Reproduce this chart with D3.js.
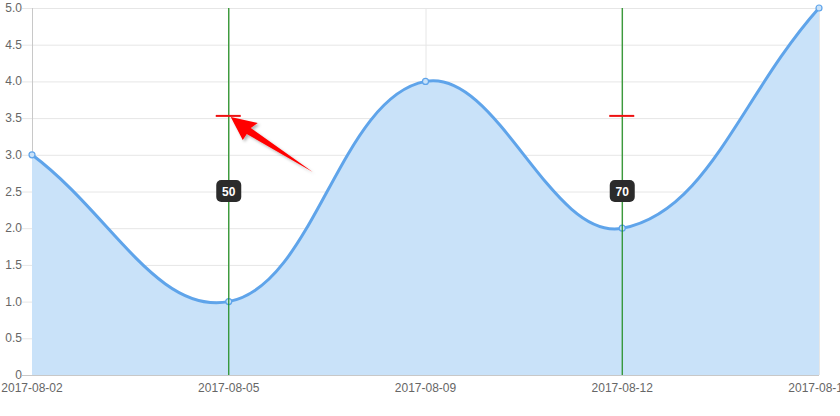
<!DOCTYPE html>
<html><head><meta charset="utf-8">
<script src="https://cdn.jsdelivr.net/npm/d3@7"></script>
<style>html,body{margin:0;padding:0;background:#fff;overflow:hidden}svg{display:block}</style>
</head><body>
<svg id="c" width="840" height="416"></svg>
<script>
const categories = ["2017-08-02","2017-08-05","2017-08-09","2017-08-12","2017-08-16"];
const values = [3, 1, 4, 2, 5];
const yTicks = [0,0.5,1,1.5,2,2.5,3,3.5,4,4.5,5];
const vLines = ["2017-08-05","2017-08-12"];
const vLabels = ["50","70"];
const markLevel = 3.53;

const svg = d3.select("#c");
const m = {l:32, r:21, t:8, b:41};
const W = 840, H = 416;
const x = d3.scalePoint().domain(categories).range([m.l, W-m.r]);
const y = d3.scaleLinear().domain([0,5]).range([H-m.b, m.t]);
const font = "Liberation Sans, Arial, Helvetica, sans-serif";

// grid
const g = svg.append("g");
g.selectAll("line.hy").data(yTicks).join("line")
  .attr("x1", m.l-10).attr("x2", W-m.r).attr("y1", d=>y(d)+0.5).attr("y2", d=>y(d)+0.5)
  .attr("stroke", d=> d===0 ? "#c8c8c8" : "#e6e6e6").attr("stroke-width",1);
g.selectAll("line.vx").data(categories).join("line")
  .attr("x1", d=>x(d)+0.5).attr("x2", d=>x(d)+0.5).attr("y1", m.t).attr("y2", H-m.b)
  .attr("stroke", (d,i)=> i===0 ? "#c8c8c8" : "#e6e6e6").attr("stroke-width",1);

// y labels
g.selectAll("text.yl").data(yTicks).join("text")
  .attr("x", m.l-10).attr("y", d=>y(d)+4).attr("text-anchor","end")
  .attr("font-family", font).attr("font-size", 12).attr("fill","#666")
  .text(d=> d===0 ? "0" : d.toFixed(1));
// x labels
g.selectAll("text.xl").data(categories).join("text")
  .attr("x", d=>x(d)).attr("y", H-m.b+17).attr("text-anchor","middle")
  .attr("font-family", font).attr("font-size", 12).attr("fill","#666")
  .text(d=>d);

// Chart.js-style spline (tension 0.4)
const pts = categories.map((c,i)=>({x:x(c), y:y(values[i])}));
const t = 0.4;
const cps = pts.map((p,i)=>{
  const prev = pts[i-1]||p, next = pts[i+1]||p;
  const d01 = Math.hypot(p.x-prev.x, p.y-prev.y);
  const d12 = Math.hypot(next.x-p.x, next.y-p.y);
  let s01 = d01/(d01+d12), s12 = d12/(d01+d12);
  if (isNaN(s01)) s01 = 0; if (isNaN(s12)) s12 = 0;
  const fa = t*s01, fb = t*s12;
  return {
    px: p.x - fa*(next.x-prev.x), py: p.y - fa*(next.y-prev.y),
    nx: p.x + fb*(next.x-prev.x), ny: p.y + fb*(next.y-prev.y)
  };
});
function linePath(){
  const p = d3.path();
  p.moveTo(pts[0].x, pts[0].y);
  for (let i=1;i<pts.length;i++){
    p.bezierCurveTo(cps[i-1].nx, cps[i-1].ny, cps[i].px, cps[i].py, pts[i].x, pts[i].y);
  }
  return p.toString();
}
const lp = linePath();
svg.append("path").attr("d", lp + `L${pts[pts.length-1].x},${y(0)}L${pts[0].x},${y(0)}Z`)
  .attr("fill","#c9e2f9").attr("stroke","none");
svg.append("path").attr("d", lp).attr("fill","none").attr("stroke","#5fa4ea").attr("stroke-width",3);
svg.selectAll("circle.pt").data(pts).join("circle")
  .attr("cx", d=>d.x).attr("cy", d=>d.y).attr("r",3)
  .attr("fill","#c9e2f9").attr("stroke","#5fa4ea").attr("stroke-width",1.2);

// vertical annotation lines
vLines.forEach((c,i)=>{
  const cx = x(c);
  svg.append("line").attr("x1", cx).attr("x2", cx).attr("y1", m.t).attr("y2", H-m.b)
    .attr("stroke","#1e8c1e").attr("stroke-width",1.2);
  const cy = (y(0)+y(5))/2;
  svg.append("rect").attr("x", cx-12.5).attr("y", cy-11.5).attr("width",25).attr("height",22)
    .attr("rx",5).attr("fill","#2b2b2b");
  svg.append("text").attr("x", cx).attr("y", cy+4).attr("text-anchor","middle")
    .attr("font-family", font).attr("font-size",12).attr("font-weight","bold").attr("fill","#fff")
    .text(vLabels[i]);
  // red marker
  svg.append("line").attr("x1", cx-13).attr("x2", cx+12).attr("y1", y(markLevel)).attr("y2", y(markLevel))
    .attr("stroke","#ee1111").attr("stroke-width",2);
});

// arrow
const defs = svg.append("defs");
const f = defs.append("filter").attr("id","sh").attr("x","-20%").attr("y","-20%").attr("width","150%").attr("height","150%");
f.append("feDropShadow").attr("dx",2).attr("dy",2).attr("stdDeviation",1.5).attr("flood-color","#000").attr("flood-opacity",0.3);
const ax = x(vLines[0]) + 2, ay = y(markLevel) + 1;
const arrowRel = [[0,0],[27,6],[20,11],[82,55],[16,17],[12,23]];
svg.append("polygon")
  .attr("points", arrowRel.map(p=>[ax+p[0], ay+p[1]].join(",")).join(" "))
  .attr("fill","#ff0000").attr("filter","url(#sh)");
</script>
</body></html>
